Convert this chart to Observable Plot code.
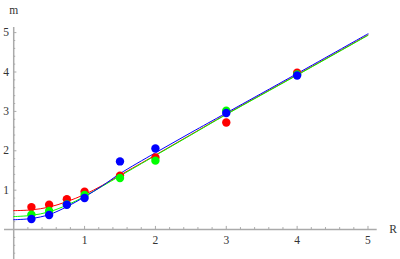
<!DOCTYPE html>
<html>
<head>
<meta charset="utf-8">
<script src="https://cdn.jsdelivr.net/npm/d3@7"></script>
<script src="https://cdn.jsdelivr.net/npm/@observablehq/plot@0.6"></script>
<style>
  html, body { margin: 0; padding: 0; background: #fff; }
  svg { display: block; }
</style>
</head>
<body>
<div id="chart"></div>
<script>
// Data points (R, m) for three series
const pointR = [0.25, 0.5, 0.75, 1, 1.5, 2, 3, 4];
const redM   = [0.57, 0.63, 0.77, 0.96, 1.37, 1.83, 2.72, 3.98];
const greenM = [0.38, 0.47, 0.64, 0.88, 1.31, 1.75, 3.02, 3.94];
const blueM  = [0.27, 0.37, 0.63, 0.80, 1.73, 2.06, 2.96, 3.91];

// Fitted curves
const curveR   = [0, 0.25, 0.5, 0.75, 1, 1.25, 1.5, 2, 2.5, 3, 4, 5];
const redFit   = [0.48, 0.50, 0.57, 0.71, 0.89, 1.12, 1.38, 1.89, 2.41, 2.93, 3.93, 4.94];
const greenFit = [0.33, 0.36, 0.45, 0.62, 0.84, 1.10, 1.36, 1.88, 2.40, 2.92, 3.92, 4.93];
const blueFit  = [0.25, 0.28, 0.38, 0.58, 0.83, 1.11, 1.42, 1.95, 2.46, 2.96, 3.96, 4.97];

const xTickLabels = [1, 2, 3, 4, 5];
const yTickLabels = [1, 2, 3, 4, 5];

const colors = {red: "#ff0000", green: "#00ff00", blue: "#0000ff"};

const pts = s => pointR.map((r, i) => ({R: r, m: s[i]}));
const crv = s => curveR.map((r, i) => ({R: r, m: s[i]}));

const xMinor = d3.range(1, 26).map(i => i * 0.2).filter(v => Math.abs(v - Math.round(v)) > 1e-6);
const yMinor = d3.range(-3, 26).map(i => i * 0.2).filter(v => Math.abs(v - Math.round(v)) > 1e-6);

const axisColor = "#aaa";
const font = "Liberation Serif, Times New Roman, serif";

const chart = Plot.plot({
  width: 400,
  height: 259,
  marginLeft: 4,
  marginRight: 23.3,
  marginTop: 27,
  marginBottom: 0,
  style: {fontFamily: font, fontSize: "11px", background: "#fff", overflow: "visible"},
  x: {domain: [-0.13, 5.13], axis: null},
  y: {domain: [-0.76, 5.13], axis: null},
  marks: [
    Plot.ruleY([0], {stroke: axisColor, strokeWidth: 1.5}),
    Plot.ruleX([0], {stroke: axisColor, strokeWidth: 1.5}),
    // x ticks
    Plot.ruleX(xTickLabels, {x: d => d, y1: 0, y2: 0.08, stroke: axisColor, strokeWidth: 1}),
    Plot.ruleX(xMinor, {x: d => d, y1: 0, y2: 0.05, stroke: axisColor, strokeWidth: 1}),
    // y ticks
    Plot.ruleY(yTickLabels, {y: d => d, x1: 0, x2: 0.045, stroke: axisColor, strokeWidth: 1}),
    Plot.ruleY(yMinor, {y: d => d, x1: 0, x2: 0.028, stroke: axisColor, strokeWidth: 1}),
    // tick labels
    Plot.text(xTickLabels, {x: d => d, y: 0, dy: 11, text: d => String(d), fill: "#333", fontFamily: font, fontSize: 11.5}),
    Plot.text(yTickLabels, {x: 0, y: d => d, dx: -7.5, text: d => String(d), fill: "#333", fontFamily: font, fontSize: 11.5}),
    // axis labels
    Plot.text(["m"], {x: 0, y: 5.13, dy: -17, text: d => d, fill: "#333", fontFamily: font, fontSize: 11.5}),
    Plot.text(["R"], {x: 5.13, y: 0, dx: 16, text: d => d, fill: "#333", fontFamily: font, fontSize: 11.5}),
    // fitted curves
    Plot.line(crv(redFit),   {x: "R", y: "m", stroke: colors.red,   strokeWidth: 1, curve: "catmull-rom"}),
    Plot.line(crv(greenFit), {x: "R", y: "m", stroke: colors.green, strokeWidth: 1, curve: "catmull-rom"}),
    Plot.line(crv(blueFit),  {x: "R", y: "m", stroke: colors.blue,  strokeWidth: 1, curve: "catmull-rom"}),
    // data points
    Plot.dot(pts(redM),   {x: "R", y: "m", r: 4.2, fill: colors.red,   stroke: "none"}),
    Plot.dot(pts(greenM), {x: "R", y: "m", r: 4.2, fill: colors.green, stroke: "none"}),
    Plot.dot(pts(blueM),  {x: "R", y: "m", r: 4.2, fill: colors.blue,  stroke: "none"})
  ]
});
document.getElementById("chart").appendChild(chart);
</script>
</body>
</html>
